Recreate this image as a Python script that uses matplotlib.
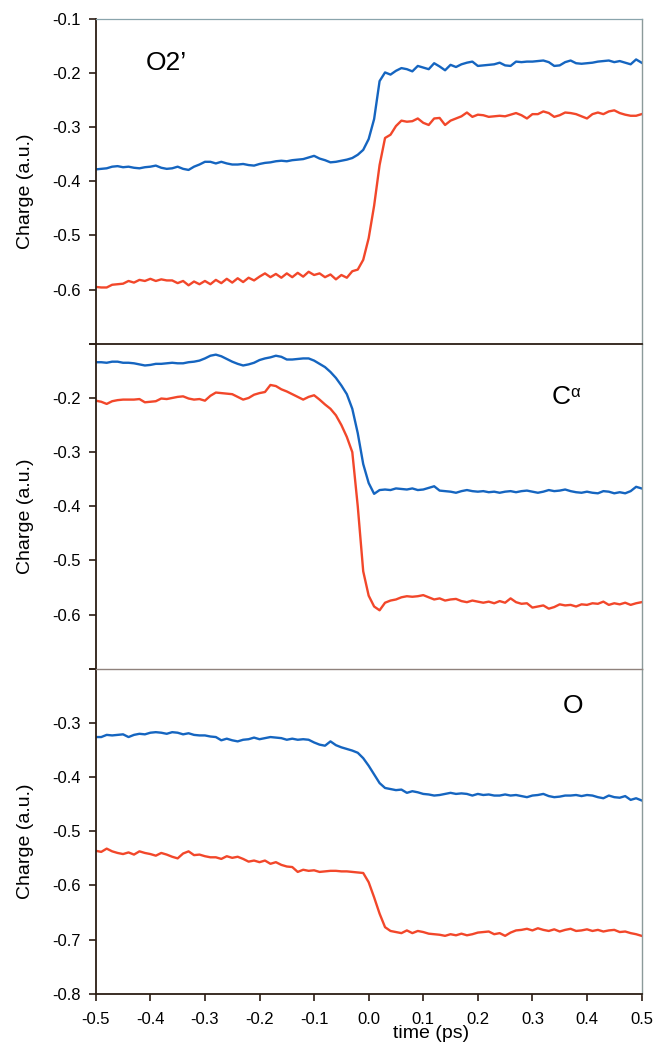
import numpy as np
import matplotlib
matplotlib.use('Agg')
import matplotlib.pyplot as plt

plt.rcParams['font.family'] = ['Liberation Sans', 'DejaVu Sans']

# time axis (ps), sampled every 0.01 ps
time_ps = np.round(np.arange(-0.5, 0.5001, 0.01), 2)

# O2' panel
o2_blue = [-0.378, -0.377, -0.376, -0.373, -0.372, -0.374, -0.373, -0.375, -0.376, -0.374,
           -0.373, -0.371, -0.375, -0.377, -0.376, -0.373, -0.377, -0.379, -0.373, -0.369,
           -0.364, -0.364, -0.367, -0.364, -0.367, -0.369, -0.369, -0.368, -0.370, -0.371,
           -0.368, -0.366, -0.365, -0.363, -0.362, -0.363, -0.361, -0.360, -0.359, -0.356,
           -0.353, -0.358, -0.361, -0.365, -0.364, -0.362, -0.360, -0.357, -0.351, -0.342,
           -0.322, -0.285, -0.215, -0.199, -0.203, -0.196, -0.191, -0.193, -0.197, -0.187,
           -0.190, -0.193, -0.182, -0.188, -0.195, -0.185, -0.189, -0.184, -0.181, -0.179,
           -0.187, -0.186, -0.185, -0.184, -0.181, -0.186, -0.187, -0.179, -0.180, -0.179,
           -0.179, -0.178, -0.177, -0.180, -0.187, -0.186, -0.180, -0.177, -0.182, -0.183,
           -0.182, -0.181, -0.179, -0.178, -0.177, -0.180, -0.178, -0.181, -0.184, -0.175,
           -0.181]
o2_red = [-0.595, -0.596, -0.596, -0.591, -0.590, -0.589, -0.584, -0.587, -0.582, -0.584,
          -0.580, -0.584, -0.581, -0.583, -0.583, -0.588, -0.584, -0.592, -0.585, -0.590,
          -0.584, -0.590, -0.582, -0.588, -0.580, -0.587, -0.579, -0.586, -0.578, -0.583,
          -0.576, -0.570, -0.577, -0.571, -0.578, -0.570, -0.577, -0.569, -0.576, -0.567,
          -0.573, -0.570, -0.577, -0.572, -0.581, -0.573, -0.578, -0.566, -0.563, -0.545,
          -0.505, -0.445, -0.370, -0.320, -0.314, -0.298, -0.288, -0.290, -0.289, -0.284,
          -0.292, -0.296, -0.284, -0.283, -0.296, -0.288, -0.284, -0.280, -0.273, -0.281,
          -0.277, -0.278, -0.281, -0.280, -0.279, -0.280, -0.277, -0.274, -0.278, -0.284,
          -0.276, -0.276, -0.271, -0.274, -0.281, -0.278, -0.273, -0.274, -0.276, -0.280,
          -0.284, -0.276, -0.273, -0.276, -0.271, -0.269, -0.274, -0.277, -0.279, -0.279,
          -0.276]

# C-alpha panel
ca_blue = [-0.134, -0.134, -0.135, -0.133, -0.133, -0.135, -0.135, -0.136, -0.138, -0.140,
           -0.139, -0.137, -0.137, -0.136, -0.135, -0.136, -0.136, -0.134, -0.133, -0.131,
           -0.127, -0.122, -0.120, -0.123, -0.128, -0.133, -0.137, -0.140, -0.138, -0.135,
           -0.130, -0.127, -0.125, -0.122, -0.124, -0.129, -0.129, -0.128, -0.127, -0.127,
           -0.131, -0.137, -0.143, -0.152, -0.163, -0.177, -0.193, -0.220, -0.265, -0.322,
           -0.357, -0.377, -0.370, -0.369, -0.370, -0.367, -0.368, -0.369, -0.367, -0.370,
           -0.369, -0.366, -0.363, -0.371, -0.372, -0.373, -0.375, -0.372, -0.370, -0.372,
           -0.373, -0.372, -0.374, -0.373, -0.375, -0.373, -0.372, -0.374, -0.372, -0.371,
           -0.373, -0.375, -0.373, -0.370, -0.372, -0.371, -0.369, -0.372, -0.374, -0.375,
           -0.373, -0.375, -0.376, -0.372, -0.373, -0.376, -0.374, -0.376, -0.372, -0.364,
           -0.367]
ca_red = [-0.205, -0.207, -0.211, -0.206, -0.204, -0.203, -0.203, -0.203, -0.202, -0.208,
          -0.207, -0.206, -0.201, -0.202, -0.200, -0.198, -0.197, -0.201, -0.203, -0.202,
          -0.205, -0.196, -0.190, -0.191, -0.192, -0.193, -0.198, -0.203, -0.200, -0.194,
          -0.191, -0.189, -0.176, -0.178, -0.184, -0.188, -0.193, -0.198, -0.203, -0.198,
          -0.195, -0.203, -0.212, -0.220, -0.232, -0.250, -0.272, -0.300, -0.400, -0.520,
          -0.565, -0.585, -0.592, -0.578, -0.574, -0.572, -0.568, -0.566, -0.567, -0.566,
          -0.564, -0.568, -0.572, -0.570, -0.574, -0.572, -0.571, -0.575, -0.577, -0.574,
          -0.576, -0.578, -0.576, -0.579, -0.575, -0.578, -0.570, -0.577, -0.580, -0.579,
          -0.587, -0.585, -0.583, -0.589, -0.586, -0.581, -0.583, -0.582, -0.585, -0.581,
          -0.582, -0.579, -0.580, -0.576, -0.582, -0.579, -0.581, -0.578, -0.582, -0.579,
          -0.577]

# O panel
o_blue = [-0.326, -0.326, -0.322, -0.323, -0.322, -0.321, -0.326, -0.322, -0.320, -0.321,
          -0.318, -0.317, -0.318, -0.320, -0.317, -0.318, -0.321, -0.319, -0.322, -0.323,
          -0.323, -0.325, -0.326, -0.332, -0.329, -0.332, -0.334, -0.331, -0.330, -0.327,
          -0.330, -0.328, -0.326, -0.327, -0.328, -0.331, -0.329, -0.331, -0.330, -0.331,
          -0.336, -0.340, -0.342, -0.334, -0.341, -0.345, -0.348, -0.351, -0.355, -0.365,
          -0.379, -0.395, -0.411, -0.420, -0.422, -0.424, -0.423, -0.429, -0.426, -0.428,
          -0.431, -0.432, -0.434, -0.433, -0.431, -0.429, -0.431, -0.430, -0.431, -0.434,
          -0.431, -0.433, -0.432, -0.434, -0.434, -0.432, -0.434, -0.433, -0.435, -0.437,
          -0.434, -0.433, -0.431, -0.435, -0.437, -0.436, -0.434, -0.434, -0.433, -0.435,
          -0.433, -0.434, -0.437, -0.439, -0.434, -0.437, -0.438, -0.435, -0.442, -0.439,
          -0.443]
o_red = [-0.536, -0.538, -0.532, -0.537, -0.540, -0.542, -0.539, -0.543, -0.537, -0.540,
         -0.542, -0.545, -0.540, -0.543, -0.547, -0.550, -0.541, -0.537, -0.544, -0.543,
         -0.546, -0.548, -0.548, -0.551, -0.546, -0.549, -0.547, -0.551, -0.556, -0.554,
         -0.557, -0.554, -0.560, -0.557, -0.562, -0.565, -0.566, -0.575, -0.571, -0.573,
         -0.572, -0.575, -0.574, -0.573, -0.573, -0.574, -0.574, -0.575, -0.576, -0.577,
         -0.594, -0.622, -0.652, -0.677, -0.684, -0.686, -0.688, -0.683, -0.688, -0.684,
         -0.686, -0.689, -0.690, -0.691, -0.693, -0.690, -0.692, -0.689, -0.692, -0.690,
         -0.687, -0.686, -0.685, -0.690, -0.688, -0.693, -0.687, -0.683, -0.682, -0.680,
         -0.683, -0.679, -0.682, -0.684, -0.681, -0.685, -0.682, -0.680, -0.684, -0.683,
         -0.681, -0.684, -0.682, -0.685, -0.683, -0.682, -0.686, -0.685, -0.688, -0.690,
         -0.693]

blue = '#1565c0'
red = '#f2472a'
dark = '#2b1d14'
grey = '#8c9a9a'

fig, axes = plt.subplots(3, 1, figsize=(6.56, 10.45), dpi=100, sharex=True)
fig.subplots_adjust(left=0.146, right=0.978, top=0.982, bottom=0.049, hspace=0)

panels = [
    (o2_blue, o2_red, (-0.7, -0.1), [-0.1, -0.2, -0.3, -0.4, -0.5, -0.6, -0.7],
     ['-0.1', '-0.2', '-0.3', '-0.4', '-0.5', '-0.6', '']),
    (ca_blue, ca_red, (-0.7, -0.1), [-0.1, -0.2, -0.3, -0.4, -0.5, -0.6, -0.7],
     ['', '-0.2', '-0.3', '-0.4', '-0.5', '-0.6', '']),
    (o_blue, o_red, (-0.8, -0.2), [-0.2, -0.3, -0.4, -0.5, -0.6, -0.7, -0.8],
     ['', '-0.3', '-0.4', '-0.5', '-0.6', '-0.7', '-0.8']),
]

for ax, (b, r, lim, ticks, labels) in zip(axes, panels):
    ax.plot(time_ps, r, color=red, lw=1.7)
    ax.plot(time_ps, b, color=blue, lw=1.7)
    ax.set_ylim(*lim)
    ax.set_xlim(-0.5, 0.5)
    ax.set_yticks(ticks)
    ax.set_yticklabels(labels)
    ax.tick_params(axis='y', direction='out', length=5, width=1.2, color=dark,
                   labelsize=12, pad=6)
    ax.tick_params(axis='x', length=0)
    ax.set_ylabel('Charge (a.u.)', fontsize=14)
    ax.yaxis.set_label_coords(-0.113, 0.47)
    ax.spines['left'].set_color(dark)
    ax.spines['left'].set_linewidth(1.3)
    ax.spines['right'].set_color(grey)
    ax.spines['right'].set_linewidth(1.0)

# panel boundaries: draw them on the lower panel so they are not hidden
axes[0].spines['top'].set_color('#8aa4ac')
axes[0].spines['top'].set_linewidth(0.9)
axes[0].spines['bottom'].set_visible(False)
axes[1].spines['top'].set_color(dark)
axes[1].spines['top'].set_linewidth(1.3)
axes[1].spines['bottom'].set_visible(False)
axes[2].spines['top'].set_color('#8f827c')
axes[2].spines['top'].set_linewidth(1.0)
axes[2].spines['bottom'].set_color(dark)
axes[2].spines['bottom'].set_linewidth(1.3)

xt = [-0.5, -0.4, -0.3, -0.2, -0.1, 0.0, 0.1, 0.2, 0.3, 0.4, 0.5]
axes[2].set_xticks(xt)
axes[2].set_xticklabels([f'{v:.1f}' for v in xt])
axes[2].tick_params(axis='x', direction='out', length=5, width=1.2, color=dark,
                    labelsize=12, pad=8)

axes[0].text(0.092, 0.864, 'O2\u2019', transform=axes[0].transAxes, fontsize=19,
             ha='left', va='center')
c_txt = axes[1].text(0.836, 0.835, 'C', transform=axes[1].transAxes, fontsize=19,
                     ha='left', va='center')
axes[1].annotate('\u03b1', xy=(1.0, 1.0), xycoords=c_txt, xytext=(-0.5, 0),
                 textcoords='offset points', fontsize=12, ha='left', va='top')
axes[2].text(0.856, 0.886, 'O', transform=axes[2].transAxes, fontsize=19,
             ha='left', va='center')

fig.text(431 / 656, 1 - 1034 / 1045, 'time (ps)', fontsize=14, ha='center', va='center')

plt.savefig('out.png', dpi=100)
